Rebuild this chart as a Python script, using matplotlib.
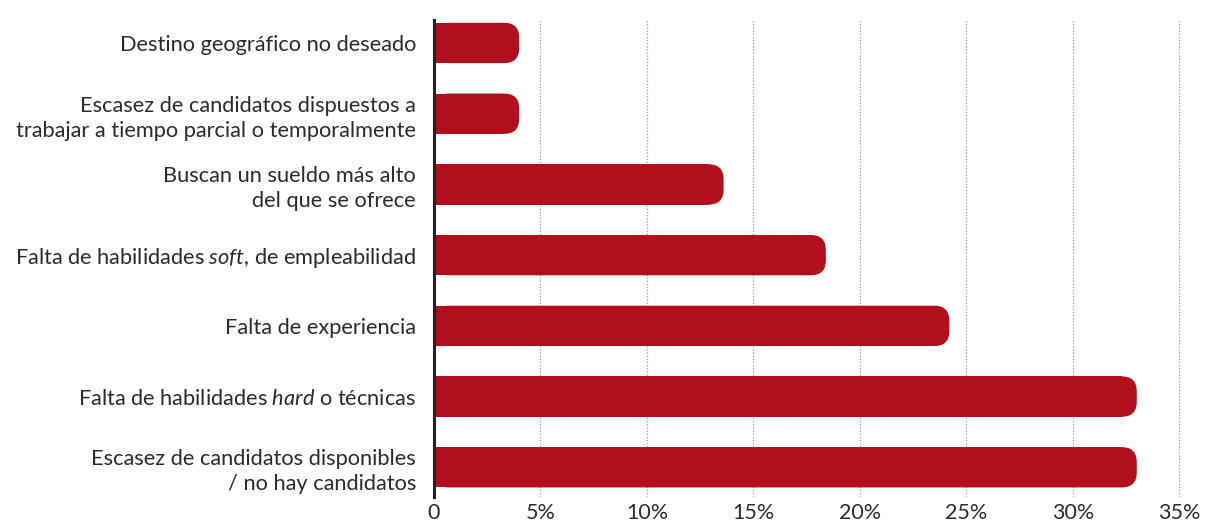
import matplotlib
matplotlib.use("Agg")
import matplotlib.pyplot as plt
from matplotlib.patches import FancyBboxPatch

plt.rcParams["font.family"] = ["Lato", "DejaVu Sans"]
plt.rcParams["mathtext.fontset"] = "custom"
plt.rcParams["mathtext.rm"] = "Lato"
plt.rcParams["mathtext.it"] = "Lato:italic"

# categories top to bottom
labels = [
    "Destino geográfico no deseado",
    "Escasez de candidatos dispuestos a\ntrabajar a tiempo parcial o temporalmente",
    "Buscan un sueldo más alto\ndel que se ofrece",
    r"Falta de habilidades $\mathit{soft}$, de empleabilidad",
    "Falta de experiencia",
    r"Falta de habilidades $\mathit{hard}$ o técnicas",
    "Escasez de candidatos disponibles\n/ no hay candidatos",
]
values = [4.0, 4.0, 13.6, 18.4, 24.2, 33.0, 33.0]
ticks = [0, 5, 10, 15, 20, 25, 30, 35]
tick_labels = ["0", "5%", "10%", "15%", "20%", "25%", "30%", "35%"]

RED = "#B20F1E"
TEXT = "#2b2b2b"

W, H = 1205, 523
fig = plt.figure(figsize=(W / 100, H / 100), dpi=100)
ax_l, ax_r, ax_t, ax_b = 434, 1190, 20, 497
ax = fig.add_axes([ax_l / W, 1 - ax_b / H, (ax_r - ax_l) / W, (ax_b - ax_t) / H])

xmax = 35.5
ymin, ymax = -0.325, 6.42
ax.set_xlim(0, xmax)
ax.set_ylim(ymax, ymin)

# rounded right ends: radius in pixels, converted to data units
px_x = (ax_r - ax_l) / xmax
px_y = (ax_b - ax_t) / (ymax - ymin)
r_px = 15
r = r_px / px_x
aspect = px_x / px_y
h = 0.57

ys = list(range(len(labels)))
ax.barh(ys, [v - r for v in values], height=h, color=RED, linewidth=0, zorder=3)
for y, v in zip(ys, values):
    p = FancyBboxPatch((0, y - h / 2), v, h,
                       boxstyle=f"round,pad=0,rounding_size={r}",
                       mutation_aspect=aspect, facecolor=RED,
                       edgecolor="none", zorder=3)
    ax.add_patch(p)

for t in ticks[1:]:
    ax.axvline(t, color="#9a9a9a", linestyle=(0, (1, 1.5)), linewidth=0.9, zorder=1)

ax.set_yticks(ys)
ax.set_yticklabels(labels, fontsize=15.7, color=TEXT, linespacing=1.3)
ax.set_xticks(ticks)
ax.set_xticklabels(tick_labels, fontsize=15.5, color=TEXT)
ax.tick_params(axis="both", length=0)
ax.tick_params(axis="y", pad=13)
ax.tick_params(axis="x", pad=4)

for s in ["top", "right", "bottom"]:
    ax.spines[s].set_visible(False)
ax.spines["left"].set_color("#222222")
ax.spines["left"].set_linewidth(2.2)
ax.spines["left"].set_zorder(5)

fig.savefig("out.png", dpi=100)
